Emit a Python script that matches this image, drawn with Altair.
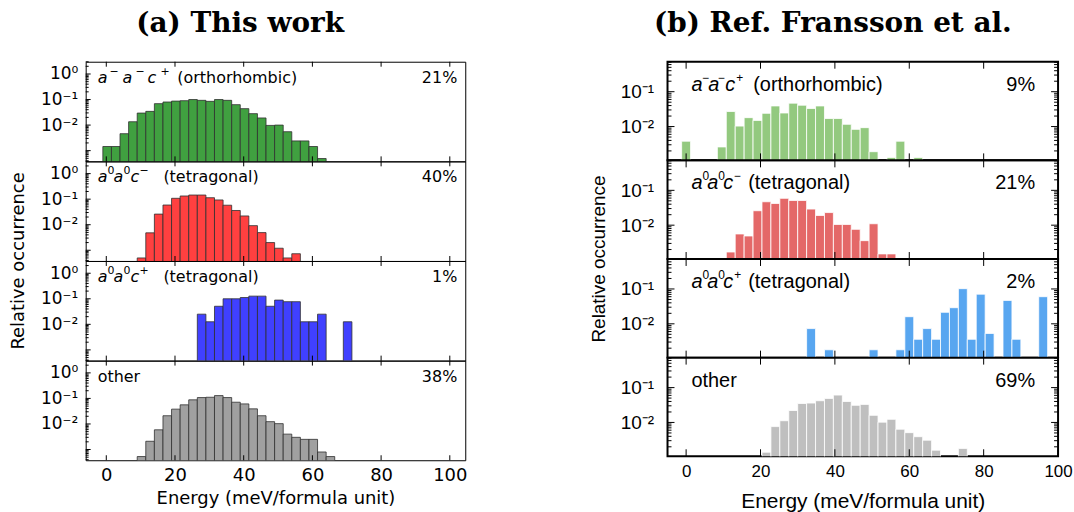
import altair as alt
import pandas as pd

# ---------------- data ----------------
LEFT_BIN_START = -1.0
LEFT_BIN_WIDTH = 2.5
RIGHT_BIN_START = -1.2
RIGHT_BIN_WIDTH = 2.4

# (a) This work : first bin index + relative occurrence per bin (None = empty)
left_ortho_first = 0
left_ortho = [0.00145, 0.00145, 0.0046, 0.0135, 0.0295, 0.0344, 0.069, 0.080, 0.087, 0.090,
              0.100, 0.093, 0.085, 0.100, 0.093, 0.063, 0.044, 0.028, 0.019, 0.0097,
              0.0100, 0.0055, 0.0024, 0.0024, 0.00145, 0.00049]
left_tetm_first = 4
left_tetm = [0.0005, 0.0048, 0.026, 0.059, 0.108, 0.133, 0.145, 0.145, 0.114, 0.093,
             0.058, 0.036, 0.022, 0.0092, 0.0049, 0.0020, 0.0012, 0.0005, 0.00073]
left_tetp_first = 11
left_tetp = [0.025, 0.0126, 0.051, 0.10, 0.10, 0.112, 0.127, 0.127, 0.051, 0.089,
             0.077, 0.077, 0.0126, 0.0126, 0.025, None, None, 0.0126]
left_other_first = 4
left_other = [0.00053, 0.0021, 0.0059, 0.021, 0.038, 0.056, 0.088, 0.108, 0.111, 0.129,
              0.108, 0.071, 0.061, 0.039, 0.021, 0.0123, 0.0103, 0.0040, 0.0030, 0.0025,
              0.0025, 0.0008, 0.00053]

# (b) Ref. Fransson et al.
right_ortho_first = 0
right_ortho = [0.0038, None, None, None, 0.0026, 0.027, 0.0103, 0.018, 0.015, 0.024,
               0.039, 0.0245, 0.047, 0.041, 0.033, 0.039, 0.017, 0.017, 0.0116, 0.0083,
               0.0093, 0.0019, None, 0.0013, 0.0038, None, 0.0013]
right_tetm_first = 5
right_tetm = [0.0017, 0.0056, 0.0049, 0.026, 0.047, 0.042, 0.059, 0.051, 0.051, 0.029,
              0.019, 0.023, 0.0105, 0.0105, 0.0076, 0.0036, 0.011, 0.0015, 0.0015]
right_tetp_first = 14
right_tetp = [0.0073, None, 0.0018, None, None, None, None, 0.0018, None, None,
              0.0018, 0.016, 0.0036, 0.0073, 0.0036, 0.0214, 0.029, 0.102, 0.0036, 0.071,
              0.0053, None, 0.047, 0.0036, None, None, 0.060]
right_other_first = 9
right_other = [0.0014, 0.0076, 0.0112, 0.022, 0.035, 0.036, 0.042, 0.049, 0.061, 0.040,
               0.031, 0.033, 0.016, 0.0102, 0.0123, 0.0064, 0.0051, 0.0039, 0.0031, 0.0016,
               None, None, 0.0018]

# class labels: base glyphs and their superscripts, then plain description
label_base = [["a", "a", "c"], ["a", "a", "c"], ["a", "a", "c"], []]
label_sup_left = [["\u2212", "\u2212", "+"], ["0", "0", "\u2212"], ["0", "0", "+"], []]
label_sup_right = [["\u2212", "\u2212", "+"], ["0", "0", "\u2212"], ["0", "0", "+"], []]
label_rest = ["(orthorhombic)", "(tetragonal)", "(tetragonal)", "other"]
left_pcts = ["21%", "40%", "1%", "38%"]
right_pcts = ["9%", "21%", "2%", "69%"]
left_colors = ["#40a040", "#ff4040", "#4040ff", "#a0a0a0"]
right_colors = ["#93c97f", "#e46868", "#58a6f0", "#bfbfbf"]
x_ticks = [0, 20, 40, 60, 80, 100]

LEFT = dict(
    series=[(left_ortho_first, left_ortho), (left_tetm_first, left_tetm),
            (left_tetp_first, left_tetp), (left_other_first, left_other)],
    colors=left_colors, pcts=left_pcts, sups=label_sup_left,
    start=LEFT_BIN_START, width=LEFT_BIN_WIDTH,
    xdom=[-6.0, 104.5], ydom=[10 ** -3.42, 10 ** 0.48],
    W=381, H=100, font="DejaVu Sans", fs=16, sup_fs=11, sup_dy=-6, lab_x=12, lab_y=16,
    base_x=[[12, 37, 62], [12, 28, 45], [12, 28, 45]],
    sup_x=[[24, 50, 75], [22, 38, 54], [22, 38, 54]],
    rest_x=[92, 78, 78, 12],
    pct_x=373, yvals=[1.0, 0.1, 0.01], ylab_fs=17, ylab_pad=8,
    xlab_fs=18, xtitle_fs=18, ytitle_fs=18, ytitle_x=-67,
    bar_stroke="#303030", bar_sw=0.8, border=1.0, maj=5, mnr=3, right_ticks=False,
    title="(a) This work", title_x=155, xlab_pad=6, xtitle_pad=5,
)
RIGHT = dict(
    series=[(right_ortho_first, right_ortho), (right_tetm_first, right_tetm),
            (right_tetp_first, right_tetp), (right_other_first, right_other)],
    colors=right_colors, pcts=right_pcts, sups=label_sup_right,
    start=RIGHT_BIN_START, width=RIGHT_BIN_WIDTH,
    xdom=[-5.0, 100.0], ydom=[10 ** -2.97, 10 ** -0.14],
    W=392, H=99, font="Liberation Sans", fs=20, sup_fs=12, sup_dy=-7, lab_x=24, lab_y=23,
    base_x=[[24, 41, 58], [24, 40, 56], [24, 40, 56]],
    sup_x=[[35, 51, 69], [35, 51, 67], [35, 51, 67]],
    rest_x=[86, 81, 81, 24],
    pct_x=369, yvals=[0.1, 0.01], ylab_fs=19, ylab_pad=14,
    xlab_fs=17, xtitle_fs=21, ytitle_fs=19, ytitle_x=-69,
    bar_stroke="white", bar_sw=0.8, border=2.0, maj=7, mnr=4, right_ticks=True,
    title="(b) Ref. Fransson et al.", title_x=166, xlab_pad=7, xtitle_pad=11,
)

ONE = pd.DataFrame({"a": [0]})


def bars_df(first, vals, start, width, base):
    rows = []
    for i, v in enumerate(vals):
        if v is None:
            continue
        k = first + i
        rows.append({"x0": start + k * width, "x1": start + (k + 1) * width, "v": v, "base": base})
    return pd.DataFrame(rows)


def log_ticks(lo, hi):
    major, minor = [], []
    for e in range(-5, 2):
        for m in range(1, 10):
            t = m * 10.0 ** e
            if lo <= t <= hi:
                (major if m == 1 else minor).append(t)
    return major, minor


def text_layer(t, x, y, **kw):
    return alt.Chart(ONE).mark_text(color="black", **kw).encode(
        x=alt.value(x), y=alt.value(y), text=alt.value(t))


def panel(c, i):
    W, H = c["W"], c["H"]
    xs = alt.Scale(domain=c["xdom"], nice=False, zero=False)
    ys = alt.Scale(type="log", domain=c["ydom"], nice=False)
    bottom = i == 3
    if bottom:
        xaxis = alt.Axis(values=x_ticks, ticks=False, domain=False, grid=False,
                         labelFont=c["font"], labelFontSize=c["xlab_fs"], labelColor="black",
                         labelPadding=c["xlab_pad"], labelFlush=False,
                         title="Energy (meV/formula unit)", titleFont=c["font"],
                         titleFontSize=c["xtitle_fs"], titleFontWeight="normal",
                         titleColor="black", titlePadding=c["xtitle_pad"])
    else:
        xaxis = None
    yaxis = alt.Axis(values=c["yvals"], ticks=False, domain=False, grid=False, title=None,
                     labelExpr="datum.value > 0.5 ? '10\u2070' : datum.value > 0.05 ? '10\u207b\u00b9' : '10\u207b\u00b2'",
                     labelFont=c["font"], labelFontSize=c["ylab_fs"], labelColor="black",
                     labelPadding=c["ylab_pad"], labelFlush=False)
    first, vals = c["series"][i]
    df = bars_df(first, vals, c["start"], c["width"], c["ydom"][0] * 0.8)
    layers = []
    layers.append(alt.Chart(df).mark_rect(fill=c["colors"][i], stroke=c["bar_stroke"],
                                          strokeWidth=c["bar_sw"], clip=True).encode(
        x=alt.X("x0:Q", scale=xs, axis=xaxis), x2="x1",
        y=alt.Y("v:Q", scale=ys, axis=yaxis), y2="base"))
    major, minor = log_ticks(c["ydom"][0], c["ydom"][1])
    sides = [(0, 1)] + ([(W, -1)] if c["right_ticks"] else [])
    for (x0, sgn) in sides:
        for vals_t, L in ((major, c["maj"]), (minor, c["mnr"])):
            layers.append(alt.Chart(pd.DataFrame({"v": vals_t})).mark_rule(
                color="black", strokeWidth=1).encode(
                y=alt.Y("v:Q", scale=ys, axis=yaxis),
                x=alt.value(x0), x2=alt.value(x0 + sgn * L)))
    xt = pd.DataFrame({"x0": x_ticks})
    layers.append(alt.Chart(xt).mark_rule(color="black", strokeWidth=1).encode(
        x=alt.X("x0:Q", scale=xs, axis=xaxis), y=alt.value(0), y2=alt.value(c["maj"])))
    layers.append(alt.Chart(xt).mark_rule(color="black", strokeWidth=1).encode(
        x=alt.X("x0:Q", scale=xs, axis=xaxis), y=alt.value(H), y2=alt.value(H - c["maj"])))
    # class label: italic base glyphs + superscripts + plain description
    if i < 3:
        for g, gx in zip(label_base[i], c["base_x"][i]):
            layers.append(text_layer(g, gx, c["lab_y"], align="left", baseline="middle",
                                     font=c["font"], fontSize=c["fs"], fontStyle="italic"))
        for s, sx in zip(c["sups"][i], c["sup_x"][i]):
            layers.append(text_layer(s, sx, c["lab_y"] + c["sup_dy"], align="left",
                                     baseline="middle", font=c["font"], fontSize=c["sup_fs"]))
    layers.append(text_layer(label_rest[i], c["rest_x"][i], c["lab_y"], align="left",
                             baseline="middle", font=c["font"], fontSize=c["fs"]))
    layers.append(text_layer(c["pcts"][i], c["pct_x"], c["lab_y"], align="right",
                             baseline="middle", font=c["font"], fontSize=c["fs"]))
    if i == 1:
        layers.append(text_layer("Relative occurrence", c["ytitle_x"], H, align="center",
                                 baseline="middle", angle=270, font=c["font"],
                                 fontSize=c["ytitle_fs"]))
    if i == 0:
        layers.append(text_layer(c["title"], c["title_x"], -38, align="center",
                                 baseline="middle", font="DejaVu Serif", fontWeight="bold",
                                 fontSize=28))
    return alt.layer(*layers).properties(
        width=W, height=H,
        view=alt.ViewBackground(stroke="black", strokeWidth=c["border"]))


left_col = alt.vconcat(*[panel(LEFT, i) for i in range(4)], spacing=0, bounds="flush")
right_col = alt.vconcat(*[panel(RIGHT, i) for i in range(4)], spacing=0, bounds="flush")

chart = alt.hconcat(left_col, right_col, spacing=121).properties(
    padding={"left": 9, "top": 8, "right": 0, "bottom": 0}
).configure(background="white")

chart.save("out.html", embed_options={"renderer": "svg", "actions": False})
